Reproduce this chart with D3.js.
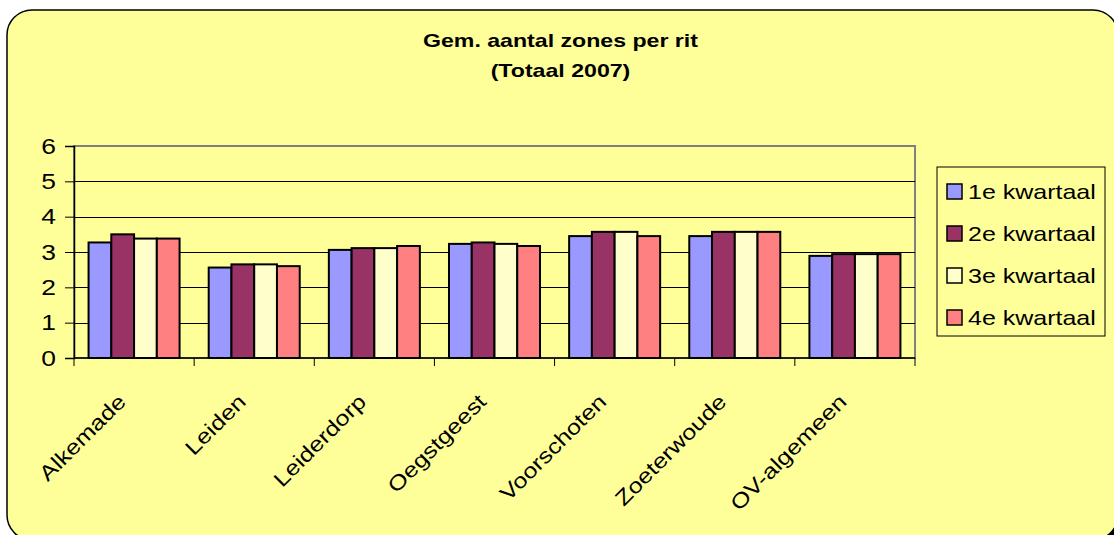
<!DOCTYPE html>
<html>
<head>
<meta charset="utf-8">
<script src="https://cdn.jsdelivr.net/npm/d3@7/dist/d3.min.js"></script>
<style>
  html, body { margin: 0; padding: 0; background: #ffffff; }
  svg { display: block; }
  text { font-family: "Liberation Sans", Arial, sans-serif; fill: #000; }
</style>
</head>
<body>
<svg id="chart" width="1114" height="535"></svg>
<script>
const categories = ["Alkemade", "Leiden", "Leiderdorp", "Oegstgeest", "Voorschoten", "Zoeterwoude", "OV-algemeen"];
const seriesNames = ["1e kwartaal", "2e kwartaal", "3e kwartaal", "4e kwartaal"];
const q1 = [3.27, 2.56, 3.06, 3.23, 3.45, 3.45, 2.89];
const q2 = [3.50, 2.65, 3.11, 3.27, 3.57, 3.57, 2.94];
const q3 = [3.38, 2.65, 3.11, 3.23, 3.57, 3.57, 2.94];
const q4 = [3.38, 2.60, 3.17, 3.17, 3.45, 3.57, 2.94];
const yTicks = [0, 1, 2, 3, 4, 5, 6];
const titleLines = ["Gem. aantal zones per rit", "(Totaal 2007)"];
const colors = ["#9999FF", "#993366", "#FFFFCC", "#FF8080"];

const seriesValues = [q1, q2, q3, q4];
const data = categories.map((c, i) => ({
  cat: c,
  vals: seriesNames.map((s, j) => ({ s, v: seriesValues[j][i] }))
}));

const svg = d3.select("#chart");

function stretch(sel, k) {
  sel.each(function () {
    const len = this.getComputedTextLength();
    d3.select(this).attr("textLength", len * k).attr("lengthAdjust", "spacingAndGlyphs");
  });
}

// chart background with shadow
svg.append("rect").attr("x", 10).attr("y", 13).attr("width", 1111).attr("height", 531)
  .attr("rx", 25).attr("ry", 25).attr("fill", "#000");
svg.append("rect").attr("x", 7).attr("y", 10).attr("width", 1111).attr("height", 530)
  .attr("rx", 25).attr("ry", 25).attr("fill", "#FFFF99").attr("stroke", "#000").attr("stroke-width", 1.5);

// title
const title = svg.append("g");
title.selectAll("text").data(titleLines).join("text")
  .attr("x", 560.5).attr("y", (d, i) => 47 + i * 30)
  .attr("text-anchor", "middle")
  .attr("font-size", 18.5).attr("font-weight", "bold")
  .text(d => d)
  .call(stretch, 1.25);

const plot = { left: 74, right: 915, top: 146, bottom: 358 };

const x0 = d3.scaleBand().domain(categories).range([plot.left, plot.right]).paddingInner(0).paddingOuter(0);
const x1 = d3.scaleBand().domain(seriesNames).range([0, x0.bandwidth()]).paddingInner(0).paddingOuter(0.64);
const y = d3.scaleLinear().domain([0, 6]).range([plot.bottom, plot.top]);

// plot area
svg.append("rect").attr("x", plot.left).attr("y", plot.top)
  .attr("width", plot.right - plot.left).attr("height", plot.bottom - plot.top)
  .attr("fill", "#FFFF99").attr("stroke", "#808080").attr("stroke-width", 2);

// gridlines
svg.append("g").selectAll("line").data(yTicks.filter(t => t > 0 && t < 6)).join("line")
  .attr("x1", plot.left).attr("x2", plot.right)
  .attr("y1", d => Math.round(y(d)) + 0.5).attr("y2", d => Math.round(y(d)) + 0.5)
  .attr("stroke", "#000").attr("stroke-width", 1);

// bars
const groups = svg.append("g").selectAll("g").data(data).join("g")
  .attr("transform", d => `translate(${x0(d.cat)},0)`);
groups.selectAll("rect").data(d => d.vals).join("rect")
  .attr("x", d => x1(d.s))
  .attr("y", d => y(d.v))
  .attr("width", x1.bandwidth())
  .attr("height", d => y(0) - y(d.v))
  .attr("fill", (d, i) => colors[i])
  .attr("stroke", "#000").attr("stroke-width", 2);

// y axis
const yAxis = d3.axisLeft(y).tickValues(yTicks).tickSize(9).tickPadding(9).tickFormat(d3.format("d"));
const gy = svg.append("g").attr("transform", `translate(${plot.left},0)`).call(yAxis);
gy.select(".domain").attr("stroke", "#000").attr("stroke-width", 1.5);
gy.selectAll(".tick line").attr("stroke", "#000");
gy.selectAll(".tick text").attr("font-size", 22).attr("font-family", "Liberation Sans, Arial, sans-serif")
  .attr("fill", "#000").call(stretch, 1.2);

// x axis with ticks at category boundaries
const xAxisG = svg.append("g");
xAxisG.append("line").attr("x1", plot.left).attr("x2", plot.right)
  .attr("y1", plot.bottom).attr("y2", plot.bottom).attr("stroke", "#000").attr("stroke-width", 1.5);
const boundaries = categories.map(c => x0(c)).concat([plot.right]);
xAxisG.selectAll("line.tk").data(boundaries).join("line").attr("class", "tk")
  .attr("x1", d => d).attr("x2", d => d)
  .attr("y1", plot.bottom).attr("y2", plot.bottom + 8)
  .attr("stroke", "#000").attr("stroke-width", 1);
xAxisG.selectAll("text").data(categories).join("text")
  .attr("transform", d => `translate(${x0(d) + x0.bandwidth() / 2 - 7},${403}) rotate(-45)`)
  .attr("text-anchor", "end")
  .attr("font-size", 21)
  .text(d => d)
  .call(stretch, 1.2);

// legend
const legend = svg.append("g");
legend.append("rect").attr("x", 937).attr("y", 167).attr("width", 168).attr("height", 169)
  .attr("fill", "#FFFF99").attr("stroke", "#000").attr("stroke-width", 1);
const items = legend.selectAll("g").data(seriesNames).join("g")
  .attr("transform", (d, i) => `translate(0,${191 + i * 42})`);
items.append("rect").attr("x", 947).attr("y", -7).attr("width", 15).attr("height", 15)
  .attr("fill", (d, i) => colors[i]).attr("stroke", "#000").attr("stroke-width", 1.5);
items.append("text").attr("x", 968).attr("y", 0).attr("dy", "0.36em")
  .attr("font-size", 21).text(d => d)
  .call(stretch, 1.19);
</script>
</body>
</html>
